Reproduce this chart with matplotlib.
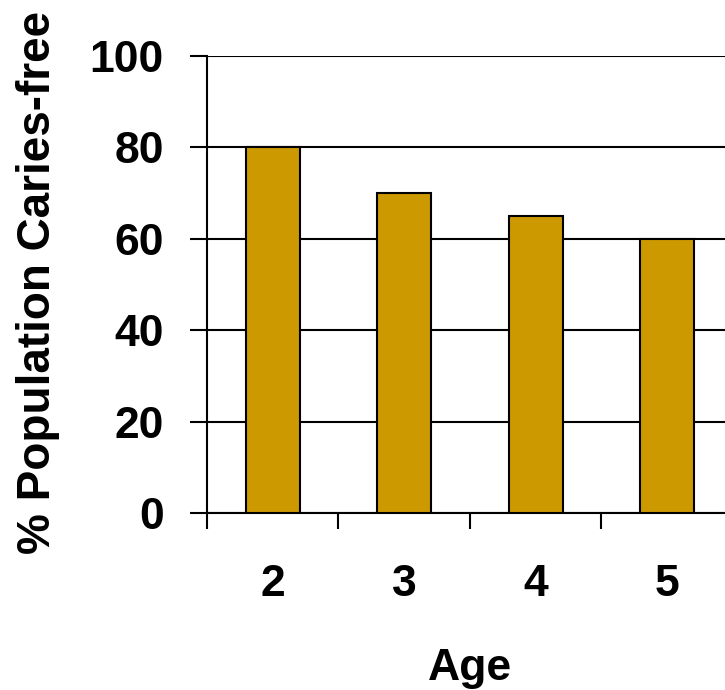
import numpy as np
import matplotlib.pyplot as plt

# data
ages = ['2', '3', '4', '5']
caries_free = [80, 70, 65, 60]

plt.rcParams['font.family'] = ['Liberation Sans', 'DejaVu Sans']
plt.rcParams['font.weight'] = 'bold'

fig = plt.figure(figsize=(7.25, 6.9), dpi=100)
ax = fig.add_axes([0.2855, 0.2565, 0.7255, 0.6623])

x = np.arange(len(ages))
ax.bar(x, caries_free, 0.41, color='#CC9900', edgecolor='black', linewidth=1.5, zorder=3)

ax.set_xlim(-0.5, len(ages) - 0.5)
ax.set_ylim(0, 100)
ax.set_yticks(range(0, 101, 20))
ax.yaxis.grid(True, color='black', linewidth=1.5, zorder=0)

# ticks between categories, labels centred under bars
ax.set_xticks(np.arange(len(ages) + 1) - 0.5)
ax.set_xticklabels([])
ax.set_xticks(x, minor=True)
ax.set_xticklabels(ages, minor=True)
ax.tick_params(axis='x', which='major', length=11.5, width=1.5, direction='out')
ax.tick_params(axis='x', which='minor', length=0, pad=37, labelsize=32)
ax.tick_params(axis='y', length=12, width=1.5, direction='out', pad=19, labelsize=32)

for side in ['top', 'right']:
    ax.spines[side].set_visible(False)
for side in ['left', 'bottom']:
    ax.spines[side].set_linewidth(1.5)

ax.set_xlabel('Age', fontsize=32, fontweight='bold')
ax.xaxis.set_label_coords(0.5, -0.295)
ax.set_ylabel('% Population Caries-free', fontsize=33, fontweight='bold')
ax.yaxis.set_label_coords(-0.2795, 0.505)

plt.savefig('out.png', dpi=100)
